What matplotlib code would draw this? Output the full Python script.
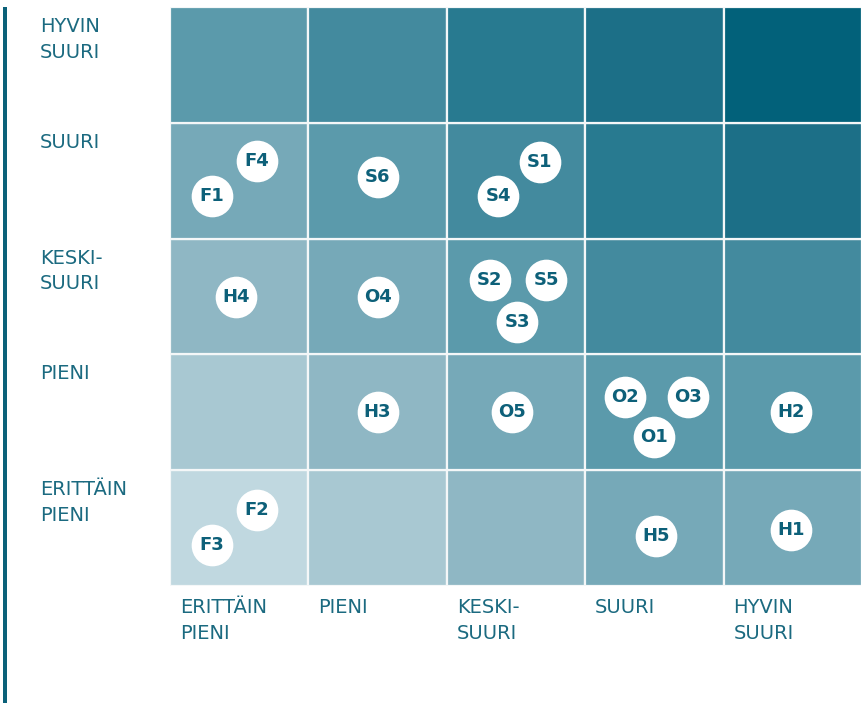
import matplotlib
matplotlib.use("Agg")
import matplotlib.pyplot as plt
from matplotlib.patches import Rectangle

# axis categories (bottom -> top for rows, left -> right for columns)
row_labels = ["ERITTÄIN\nPIENI", "PIENI", "KESKI-\nSUURI", "SUURI", "HYVIN\nSUURI"]
col_labels = ["ERITTÄIN\nPIENI", "PIENI", "KESKI-\nSUURI", "SUURI", "HYVIN\nSUURI"]

# shade palette, light -> dark
level_colors = ["#C0D8E0", "#A8C8D2", "#8FB7C4", "#76A9B8", "#5B9AAB",
                "#438A9E", "#287A90", "#1C6F87", "#02617A"]
# shade index of each cell, rows bottom -> top
cell_levels = [[0, 1, 2, 3, 3],
               [1, 2, 3, 4, 4],
               [2, 3, 4, 5, 5],
               [3, 4, 5, 6, 7],
               [4, 5, 6, 7, 8]]

# risk markers: label, x (column position), y (row position)
risk_ids = ["F4", "F1", "S6", "S1", "S4", "H4", "O4", "S2", "S5", "S3",
            "H3", "O5", "O2", "O3", "O1", "H2", "F2", "F3", "H5", "H1"]
risk_x = [0.63, 0.30, 1.50, 2.67, 2.37, 0.48, 1.50, 2.31, 2.72, 2.51,
          1.50, 2.47, 3.29, 3.74, 3.50, 4.49, 0.63, 0.30, 3.51, 4.49]
risk_y = [3.67, 3.37, 3.53, 3.66, 3.37, 2.50, 2.50, 2.64, 2.64, 2.28,
          1.50, 1.50, 1.63, 1.63, 1.29, 1.50, 0.66, 0.35, 0.43, 0.48]

text_col = "#1B6A80"
mark_col = "#0D6079"
plt.rcParams['font.family'] = ['DejaVu Sans']

fig = plt.figure(figsize=(8.62, 7.03), dpi=100)
ax = fig.add_axes([170/862, 117/703, 692/862, 579/703])

for r in range(5):
    for c in range(5):
        ax.add_patch(Rectangle((c, r), 1, 1, facecolor=level_colors[cell_levels[r][c]],
                               edgecolor="#F4F7F8", linewidth=1.6))

ax.scatter(risk_x, risk_y, s=900, color="white", zorder=3, linewidths=0)
for lab, x, y in zip(risk_ids, risk_x, risk_y):
    ax.text(x, y, lab, ha="center", va="center", fontsize=13,
            fontweight="bold", color=mark_col, zorder=4)

ax.set_xlim(0, 5)
ax.set_ylim(0, 5)
ax.axis("off")

# row labels, left of grid
for r, lab in enumerate(row_labels):
    ax.text(-130/138.4, r + 1 - 10/115.8, lab, ha="left", va="top",
            fontsize=14, color=text_col, linespacing=1.45)

# column labels, below grid
for c, lab in enumerate(col_labels):
    ax.text(c + 10/138.4, -12/115.8, lab, ha="left", va="top",
            fontsize=14, color=text_col, linespacing=1.45)

# vertical bar on the left edge
fig.add_artist(Rectangle((3/862, 0), 4/862, 696/703, transform=fig.transFigure,
                         facecolor="#0B6179", edgecolor="none"))

fig.savefig("out.png", dpi=100)
